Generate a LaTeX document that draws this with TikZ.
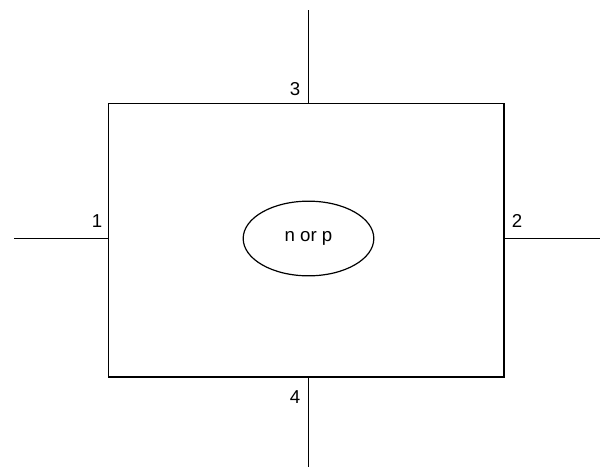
\documentclass[tikz,border=0pt]{standalone}
\usepackage{fontspec}
\setmainfont{Liberation Sans}
\usepackage{tikz}
\usetikzlibrary{shapes.geometric}

\begin{document}
\begin{tikzpicture}[x=0.75pt, y=-0.75pt, every node/.style={font=\fontsize{14}{16}\selectfont}]
  \tikzstyle{body}=[rectangle,draw,line width=1.1pt,minimum width=296.5pt,minimum height=205pt,inner sep=0pt]
  \tikzstyle{region}=[ellipse,draw,line width=0.9pt,minimum width=98pt,minimum height=56pt,inner sep=0pt]
  \tikzstyle{lead}=[line width=1.1pt]
  \useasboundingbox (0,0) rectangle (602,472);
  \node[body] (box) at (306.3,240.3) {};
  \node[region] (dot) at (308.5,238.5) {n or p};
  \coordinate (e1) at (14,238.5);
  \coordinate (e2) at (600,238.5);
  \coordinate (e3) at (308.5,10);
  \coordinate (e4) at (308.5,467);
  \draw[lead] (e1) -- (box.west |- dot);
  \draw[lead] (box.east |- dot) -- (e2);
  \draw[lead] (e3) -- (box.north -| dot);
  \draw[lead] (box.south -| dot) -- (e4);
  \node (l1) at (97,221) {1};
  \node (l2) at (517,221) {2};
  \node (l3) at (295,89) {3};
  \node (l4) at (295,397) {4};
\end{tikzpicture}
\end{document}
